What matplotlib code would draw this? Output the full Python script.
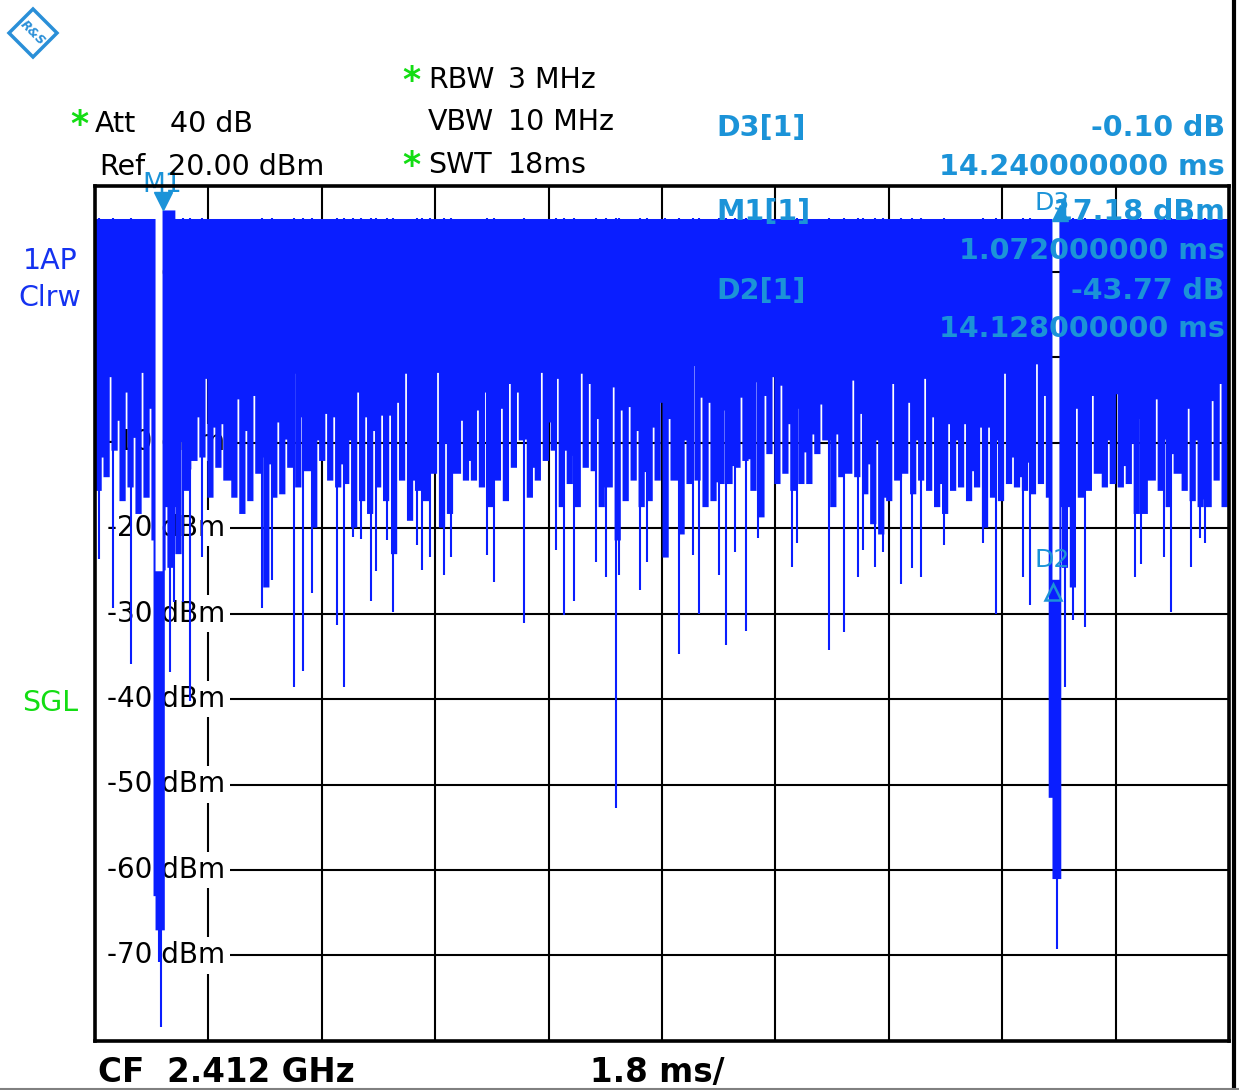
import matplotlib
matplotlib.use("Agg")
import matplotlib.pyplot as plt
import numpy as np
from matplotlib.patches import Polygon
from matplotlib.lines import Line2D

# zero span sweep, 18 ms, ref 20 dBm, 10 dB/div
sweep_ms = 18.0
y_ticks = [10, 0, -10, -20, -30, -40, -50, -60, -70]

# trace top level (dBm), M1 burst is a bit higher
top_dbm = 16.2
m1_top_dbm = 17.2
m1_top_windows = [8, 9]

# lower edge of the trace body, one value per 1/142 of the sweep (dBm)
floor_dbm = [
    -15.6, -14.0, -10.9, -16.8, -15.2, -18.3, -16.4, -21.4, -24.9, -24.6, -23.0, -15.6,
    -12.1, -11.7, -16.4, -12.9, -14.4, -16.4, -18.3, -16.8, -13.6, -26.9, -16.4, -16.0,
    -12.9, -15.2, -13.3, -19.9, -12.1, -14.4, -15.2, -14.8, -19.9, -16.8, -18.3, -15.2,
    -16.8, -23.0, -14.4, -19.1, -15.6, -16.8, -13.6, -19.9, -18.3, -13.6, -14.4, -14.4,
    -15.2, -17.5, -14.4, -16.8, -12.9, -9.7, -16.4, -14.4, -12.1, -10.9, -17.5, -14.8,
    -17.5, -12.9, -13.3, -17.5, -15.2, -21.4, -16.8, -14.4, -17.5, -16.8, -14.4, -23.4,
    -14.4, -20.7, -14.8, -14.4, -17.5, -16.8, -14.8, -14.8, -12.9, -12.1, -15.6, -18.7,
    -11.3, -14.8, -13.6, -15.6, -14.8, -14.8, -11.3, -9.7, -17.5, -14.0, -13.6, -14.0,
    -16.0, -19.5, -20.7, -16.8, -14.4, -13.6, -16.0, -14.4, -15.6, -17.5, -18.3,
    -15.6, -15.2, -16.8, -15.2, -19.9, -16.4, -16.8, -14.8, -15.2, -15.6, -16.0, -14.8,
    -16.4, -24.9, -24.6, -26.9, -16.4, -15.6, -13.6, -15.2, -14.8, -15.2, -14.8, -18.3,
    -18.3, -14.4, -15.6, -17.5, -13.6, -15.6, -16.8, -17.5, -17.5, -14.4, -17.5,
]

# upper end of the thin white slit at the end of each window (dBm)
slit_dbm = [
    -11.7, -2.3, -7.4, -4.1, -9.4, -1.8, -6.0, -6.6, -17.5, -17.5, -9.9, -13.1,
    -7.0, -2.5, -8.2, -7.8, -14.8, -4.9, -8.6, -4.5, -11.7, -12.5, -7.6, -9.6,
    -1.9, -7.0, -13.6, -9.7, -6.6, -7.0, -12.5, -9.7, -4.1, -7.0, -8.6, -6.8,
    -6.8, -5.3, -1.9, -14.4, -7.6, -0.8, -1.8, -10.1, -13.6, -7.4, -12.1, -6.2,
    -4.1, -13.4, -6.0, -3.1, -4.1, -9.6, -12.9, -1.8, -7.6, -2.5, -10.9, -11.5,
    -1.9, -3.1, -7.2, -15.2, -3.5, -6.2, -5.8, -8.6, -13.4, -8.2, -5.3, -7.2,
    -14.4, -9.7, -1.0, -4.7, -5.3, -14.6, -6.2, -12.7, -4.7, -11.9, -2.9, -4.5,
    -2.3, -3.3, -7.8, -6.0, -11.1, -9.0, -5.5, -14.2, -9.0, -13.6, -2.7, -6.6,
    -12.5, -9.7, -16.4, -3.1, -14.0, -5.3, -9.7, -2.5, -7.0, -14.8, -7.8,
    -9.7, -7.8, -13.3, -8.2, -8.2, -9.7, -1.9, -11.7, -14.0, -12.3, -0.8, -4.5,
    -17.5, -17.5, -17.5, -6.0, -12.9, -4.5, -16.4, -9.7, -4.3, -12.7, -10.1, -7.2,
    -14.4, -4.9, -9.6, -11.3, -15.0, -6.0, -9.7, -16.6, -5.1, -3.1, -9.7,
]

# single deep drops (time ms, lowest level dBm)
needle_t = [0.064, 0.286, 0.572, 1.191, 1.255, 1.398, 1.509, 1.699, 2.652, 2.811,
            3.161, 3.303, 3.446, 3.843, 3.955, 4.098, 4.225, 4.383, 4.463,
            4.633, 4.738, 5.109, 5.188, 5.32, 5.543, 5.649, 6.221, 6.337, 6.803,
            7.317, 7.449, 7.597, 7.957, 8.116, 8.27, 8.322, 8.656, 8.762, 9.053,
            9.264, 9.487, 9.593, 9.911, 10.022, 10.164, 10.339, 10.525, 11.065,
            11.144, 11.647, 11.896, 12.107, 12.187, 12.388, 12.505, 12.796, 12.971,
            13.119, 13.479, 14.092, 14.305, 14.733, 14.839, 15.39, 15.528, 15.708,
            16.502, 16.608, 16.967, 17.073, 17.391, 17.534, 17.613]
needle_lo = [-23.6, -29.3, -35.9, -36.9, -28.6, -28.6, -40.2, -23.4, -29.3, -26.1,
             -38.6, -36.7, -27.6, -31.4, -38.6, -21.1, -21.3, -28.5, -25.0,
             -21.4, -29.8, -22.0, -24.9, -23.4, -25.5, -23.4, -23.2, -26.3, -31.1,
             -22.6, -30.2, -28.5, -24.0, -25.7, -52.8, -25.5, -27.3, -24.0, -23.4,
             -34.7, -23.2, -30.0, -25.5, -33.7, -22.8, -32.0, -21.2, -24.6,
             -21.8, -34.3, -32.2, -25.7, -22.6, -24.6, -22.8, -26.5, -24.7,
             -25.7, -22.0, -21.8, -30.0, -25.7, -29.0, -38.6, -30.8, -31.6,
             -25.7, -24.2, -23.4, -29.8, -24.6, -21.2, -21.8]

# pauses between bursts and the edges around them: start, end, max, min
zone_t0 = [0.921, 0.953, 1.064, 15.13, 15.19, 15.30]
zone_t1 = [0.953, 1.064, 1.100, 15.19, 15.30, 15.33]
zone_hi = [16.2, -25.0, 17.2, 16.2, -26.0, 17.1]
zone_lo = [-63.0, -67.0, -67.0, -51.5, -61.0, -61.0]
gap_needle_t = [1.016, 1.048, 15.27]
gap_needle_lo = [-70.8, -78.4, -69.2]

# markers
m1_t, m1_lvl = 1.072, 17.18
d2_t, d2_lvl = 15.2, -26.59
d3_t, d3_lvl = 15.312, 17.08

TRACE = "#0a1eff"
MARK = "#1b93d8"
GREEN = "#13dd13"
W, H = 1239, 1090


def fx(x):
    return x / W


def fy(y):
    return 1 - y / H


def clip(a, b, zones):
    pieces = [(a, b)]
    for z0, z1 in zones:
        new = []
        for p, q in pieces:
            if q <= z0 or p >= z1:
                new.append((p, q))
            else:
                if p < z0:
                    new.append((p, z0))
                if q > z1:
                    new.append((z1, q))
        pieces = new
    return pieces


fig = plt.figure(figsize=(W / 100, H / 100), dpi=100)
ax = fig.add_axes([fx(95), fy(1041), (1229 - 95) / W, (1041 - 186) / H])
ax.set_xlim(0, sweep_ms)
ax.set_ylim(-80, 20)
ax.set_xticks([])
ax.set_yticks([])
for s in ax.spines.values():
    s.set_linewidth(2.6)
    s.set_zorder(5)

for k in range(1, 10):
    ax.axvline(k * 1.8, color="black", lw=1.5, zorder=1)
for lvl in y_ticks:
    ax.hlines(lvl, 2.12, sweep_ms, color="black", lw=1.5, zorder=1)
    ax.text(2.07, lvl, f"{lvl} dBm", ha="right", va="center", fontsize=20,
            zorder=1.5, bbox=dict(facecolor="white", edgecolor="none", pad=3))

# trace body: step outline of the per-window min/max
n = len(floor_dbm)
dt = sweep_ms / n
zones_merged = [(zone_t0[0], zone_t1[2]), (zone_t0[3], zone_t1[5])]
segs = []
for i in range(n):
    t0 = i * dt
    top = m1_top_dbm if i in m1_top_windows else top_dbm
    lo_slit = max(slit_dbm[i], floor_dbm[i])
    for a, b, lo in [(t0, t0 + 0.78 * dt, floor_dbm[i]), (t0 + 0.78 * dt, t0 + dt, lo_slit)]:
        for p, q in clip(a, b, zones_merged):
            segs.append((p, top, lo))
for a, hi, lo in zip(zone_t0, zone_hi, zone_lo):
    segs.append((a, hi, lo))
segs.sort()
xs = [s[0] for s in segs] + [sweep_ms]
his = [s[1] for s in segs] + [segs[-1][1]]
los = [s[2] for s in segs] + [segs[-1][2]]
ax.fill_between(xs, los, his, step="post", color=TRACE, linewidth=0, zorder=2)
ax.vlines(needle_t, needle_lo, top_dbm, colors=TRACE, lw=1.5, zorder=2)
ax.vlines(gap_needle_t, gap_needle_lo, -30, colors=TRACE, lw=1.5, zorder=2)

# marker symbols
ax.plot([m1_t], [18.3], marker="v", ms=13, color=MARK, zorder=4, clip_on=False)
ax.text(m1_t, 19.3, "M1", color=MARK, fontsize=19, ha="center", va="baseline",
        zorder=4, clip_on=False)
ax.plot([d3_t], [d3_lvl - 0.2], marker="^", ms=11, color=MARK, zorder=4)
ax.text(d3_t - 0.12, 17.2, "D3", color=MARK, fontsize=18, ha="center",
        va="baseline", zorder=4)
ax.plot([d2_t], [d2_lvl - 0.9], marker="^", ms=11, color=MARK, mfc="none",
        mew=1.8, zorder=4)
ax.text(d2_t, -24.6, "D2", color=MARK, fontsize=18, ha="center", va="baseline",
        zorder=4)

# marker readouts
for txt, x, y, ha in [("D3[1]", 716, 136, "left"), ("-0.10 dB", 1225, 136, "right"),
                      ("14.240000000 ms", 1225, 175, "right"),
                      ("M1[1]", 716, 220, "left"), ("17.18 dBm", 1225, 220, "right"),
                      ("1.072000000 ms", 1225, 259, "right"),
                      ("D2[1]", 716, 299, "left"), ("-43.77 dB", 1225, 299, "right"),
                      ("14.128000000 ms", 1225, 337, "right")]:
    fig.text(fx(x), fy(y), txt, color=MARK, fontsize=20.5, fontweight="bold",
             ha=ha, va="baseline", zorder=6)

# header
hdr = dict(fontsize=20.5, color="black", va="baseline")
fig.text(fx(95), fy(132), "Att", **hdr)
fig.text(fx(170), fy(132), "40 dB", **hdr)
fig.text(fx(99), fy(175), "Ref", **hdr)
fig.text(fx(168), fy(175), "20.00 dBm", **hdr)
fig.text(fx(428), fy(88), "RBW", **hdr)
fig.text(fx(508), fy(88), "3 MHz", **hdr)
fig.text(fx(428), fy(130), "VBW", **hdr)
fig.text(fx(508), fy(130), "10 MHz", **hdr)
fig.text(fx(428), fy(173), "SWT", **hdr)
fig.text(fx(508), fy(173), "18ms", **hdr)
for x, y in [(79, 132), (411, 88), (411, 173)]:
    fig.text(fx(x), fy(y + 3), "*", fontsize=25, fontweight="bold", color=GREEN,
             ha="center", va="baseline")

side = dict(fontsize=20.5, ha="center", va="baseline")
fig.text(fx(50), fy(269), "1AP", color="#1432f0", **side)
fig.text(fx(50), fy(306), "Clrw", color="#1432f0", **side)
fig.text(fx(50), fy(711), "SGL", color=GREEN, **side)

fig.text(fx(98), fy(1082), "CF  2.412 GHz", fontsize=23.5, fontweight="bold",
         va="baseline")
fig.text(fx(590), fy(1082), "1.8 ms/", fontsize=23.5, fontweight="bold",
         va="baseline")

# logo
logo = Polygon([[fx(33), fy(9)], [fx(57), fy(33)], [fx(33), fy(57)], [fx(9), fy(33)]],
               closed=True, fill=False, edgecolor="#2a8fd8", lw=2.5,
               transform=fig.transFigure)
fig.add_artist(logo)
fig.text(fx(33), fy(33), "R&S", fontsize=9, color="#2a8fd8", ha="center",
         va="center", rotation=-45, fontstyle="italic", fontweight="bold")

fig.add_artist(Line2D([fx(1234), fx(1234)], [fy(1088), 1], color="black", lw=3,
                      transform=fig.transFigure))
fig.add_artist(Line2D([0, 1], [fy(1088.5), fy(1088.5)], color="#808080", lw=1.5,
                      transform=fig.transFigure))

fig.savefig("out.png", dpi=100)
